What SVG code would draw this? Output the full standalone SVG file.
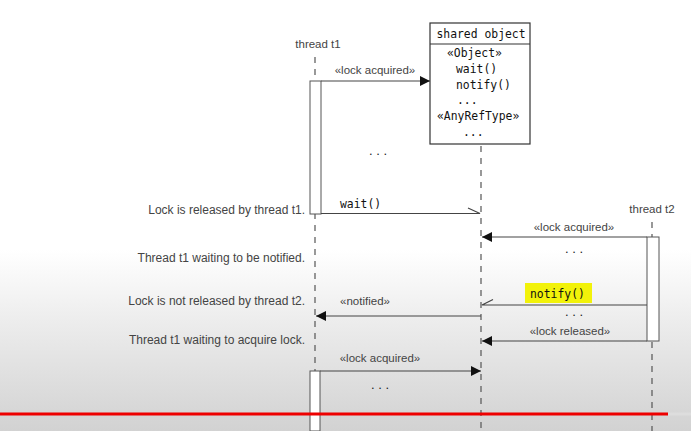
<svg xmlns="http://www.w3.org/2000/svg" width="691" height="431" viewBox="0 0 691 431">
<defs>
<linearGradient id="bg" x1="0" y1="0" x2="0" y2="1">
<stop offset="0" stop-color="#ffffff"/>
<stop offset="0.58" stop-color="#ffffff"/>
<stop offset="0.75" stop-color="#ececec"/>
<stop offset="1" stop-color="#d2d2d2"/>
</linearGradient>
<marker id="fill" viewBox="0 0 10 10" refX="10" refY="5" markerWidth="10" markerHeight="10" markerUnits="userSpaceOnUse" orient="auto">
<path d="M0,0 L10,5 L0,10 Z" fill="#111"/>
</marker>
</defs>
<style>
.lbl{font-family:"Liberation Sans",Arial,sans-serif;font-size:11.5px;fill:#444}
.note{font-family:"Liberation Sans",Arial,sans-serif;font-size:12px;fill:#444;text-anchor:end}
.mono{font-family:"DejaVu Sans Mono","Liberation Mono",monospace;font-size:11.4px;fill:#111}
.life{stroke:#555;stroke-width:1.2;stroke-dasharray:6,6;fill:none}
.act{fill:#fff;stroke:#555;stroke-width:1}
.msg{stroke:#444;stroke-width:1.2;fill:none}
.dots{font-family:"Liberation Sans",Arial,sans-serif;font-size:13px;fill:#222;text-anchor:middle}
</style>
<rect x="0" y="0" width="691" height="431" fill="url(#bg)"/>

<g id="lifelines">
<line class="life" x1="315" y1="57" x2="315" y2="431"/>
<line class="life" x1="481" y1="146" x2="481" y2="431"/>
<line class="life" x1="652" y1="222" x2="652" y2="431"/>
</g>

<g id="thread-t1">
<text class="lbl" x="318" y="48" text-anchor="middle" font-size="12">thread t1</text>
<rect class="act" x="310" y="81" width="11" height="133"/>
<rect class="act" x="310" y="371" width="10" height="60"/>
</g>

<g id="shared-object">
<rect x="430" y="23" width="100" height="121" fill="#fff" stroke="#333" stroke-width="1.2"/>
<line x1="430" y1="44" x2="530" y2="44" stroke="#333" stroke-width="1.2"/>
<text class="mono" x="481" y="38" text-anchor="middle">shared object</text>
<text class="mono" x="447" y="57">«Object»</text>
<text class="mono" x="456" y="73">wait()</text>
<text class="mono" x="456" y="89">notify()</text>
<text class="mono" x="457" y="104">...</text>
<text class="mono" x="437" y="120">«AnyRefType»</text>
<text class="mono" x="463" y="136">...</text>
</g>

<g id="thread-t2">
<text class="lbl" x="652" y="213" text-anchor="middle" font-size="12">thread t2</text>
<rect class="act" x="647" y="237" width="12" height="104"/>
</g>

<g id="notes">
<text class="note" x="305" y="214">Lock is released by thread t1.</text>
<text class="note" x="305" y="262">Thread t1 waiting to be notified.</text>
<text class="note" x="305" y="305">Lock is not released by thread t2.</text>
<text class="note" x="305" y="344">Thread t1 waiting to acquire lock.</text>
</g>

<g id="connectors">
<line class="msg" x1="321" y1="81" x2="430" y2="81" marker-end="url(#fill)"/>
<text class="lbl" x="375" y="74" text-anchor="middle">«lock acquired»</text>
<text class="dots" x="378" y="155">. . .</text>

<polyline class="msg" points="321,213.5 480,213.5 468,208"/>
<text class="mono" x="340" y="208" font-size="11.8">wait()</text>

<line class="msg" x1="647" y1="237" x2="482" y2="237" marker-end="url(#fill)"/>
<text class="lbl" x="574" y="231" text-anchor="middle">«lock acquired»</text>
<text class="dots" x="574" y="253">. . .</text>

<rect x="525" y="283" width="67" height="20" fill="#f2f20a"/>
<text class="mono" x="530" y="298" font-size="11.8">notify()</text>
<polyline class="msg" points="647,305 482,305 493,299.5"/>
<text class="dots" x="574" y="316">. . .</text>

<line class="msg" x1="481" y1="316" x2="316" y2="316" marker-end="url(#fill)"/>
<text class="lbl" x="365" y="305" text-anchor="middle">«notified»</text>

<line class="msg" x1="647" y1="341" x2="482" y2="341" marker-end="url(#fill)"/>
<text class="lbl" x="570" y="335" text-anchor="middle">«lock released»</text>

<line class="msg" x1="320" y1="371" x2="481" y2="371" marker-end="url(#fill)"/>
<text class="lbl" x="380" y="362" text-anchor="middle">«lock acquired»</text>
<text class="dots" x="380" y="389">. . .</text>
</g>

<line x1="0" y1="414" x2="668" y2="414" stroke="#e00" stroke-width="3"/>
<line x1="668" y1="414" x2="691" y2="414" stroke="#ddd" stroke-width="3"/>
</svg>
